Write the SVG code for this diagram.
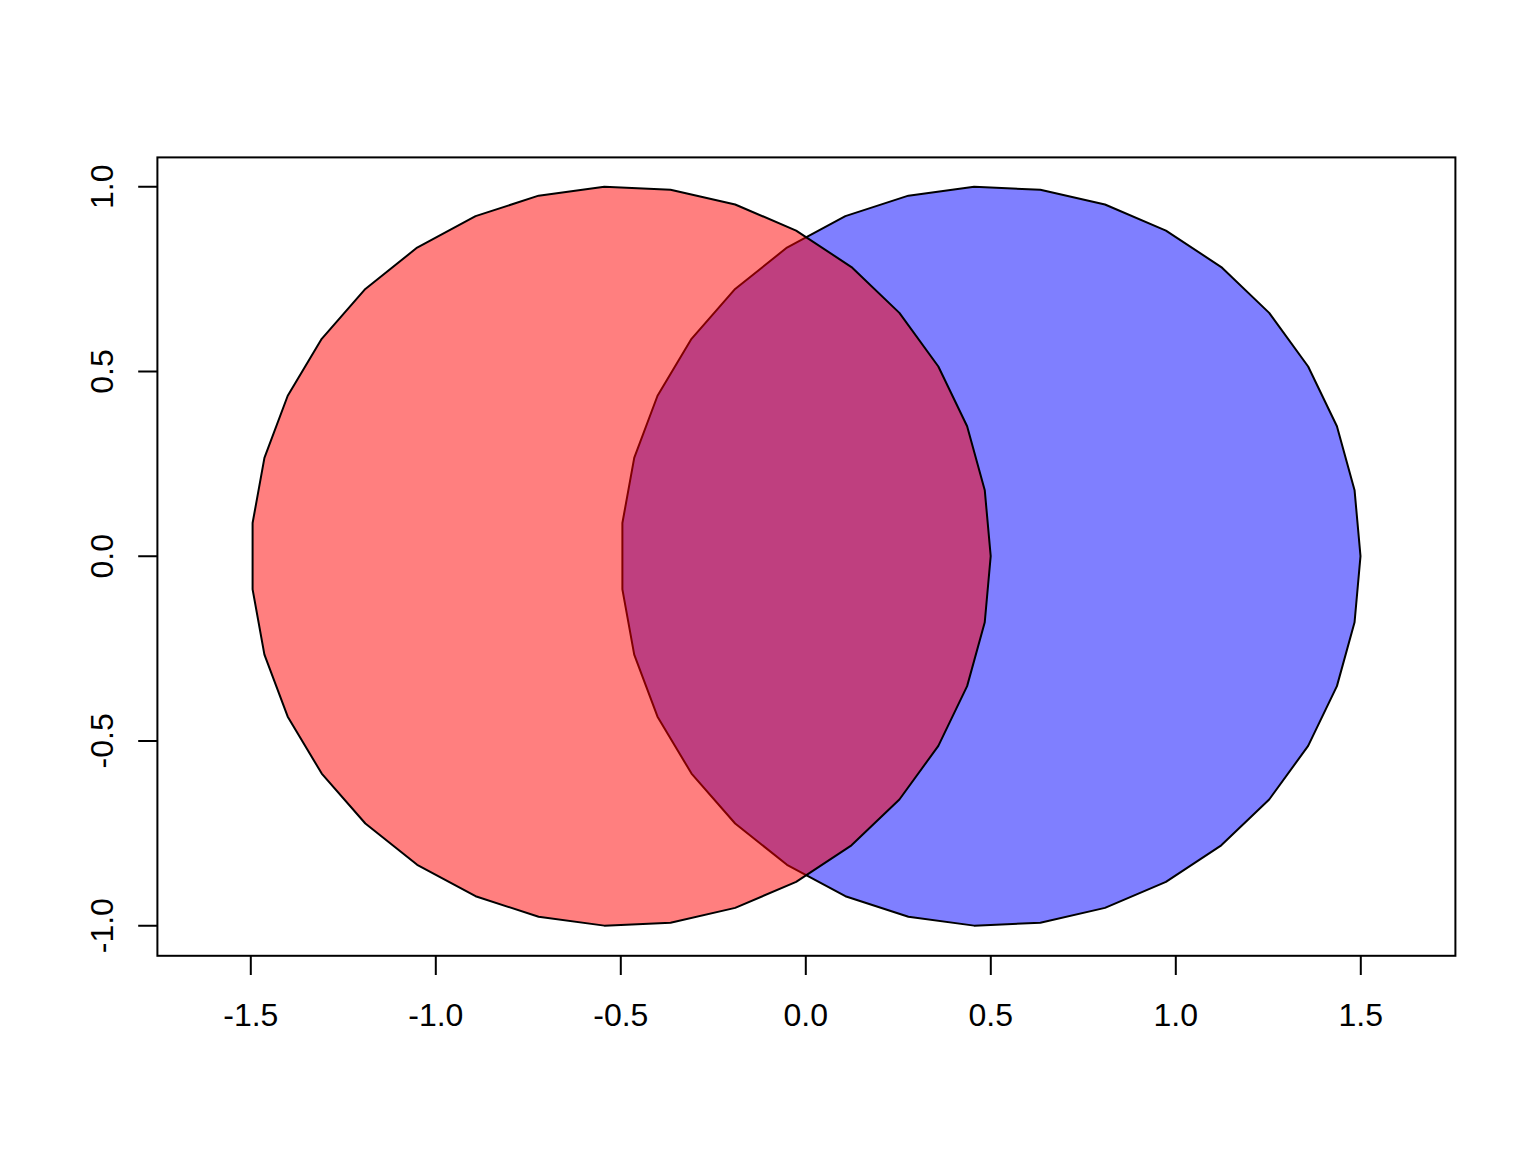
<svg xmlns="http://www.w3.org/2000/svg" width="1536" height="1152" viewBox="0 0 1536 1152">
<style>
.ln{stroke:#000;stroke-width:2;fill:none;stroke-linecap:butt}
.lbl{font-family:"Liberation Sans",Arial,sans-serif;font-size:32px;fill:#000;text-anchor:middle}
.circ{stroke:#000;stroke-width:2;stroke-linejoin:round}
</style>
<defs>
<polygon id="poly" points="369.8,0 363.86,-66.03 346.22,-129.94 317.45,-189.67 278.49,-243.31 230.57,-289.12 175.24,-325.65 114.28,-351.7 49.64,-366.46 -16.6,-369.43 -82.29,-360.53 -145.34,-340.04 -203.72,-308.62 -255.55,-267.29 -299.18,-217.36 -333.18,-160.45 -356.48,-98.38 -368.31,-33.15 -368.31,33.15 -356.48,98.38 -333.18,160.45 -299.18,217.36 -255.55,267.29 -203.72,308.62 -145.34,340.04 -82.29,360.53 -16.6,369.43 49.64,366.46 114.28,351.7 175.24,325.65 230.57,289.12 278.49,243.31 317.45,189.67 346.22,129.94 363.86,66.03"/>
</defs>
<rect width="1536" height="1152" fill="#fff"/>
<g id="circle-blue">
<use href="#poly" transform="translate(990.7,556.2)" class="circ" fill="rgba(0,0,255,0.5)"/>
</g>
<g id="circle-red">
<use href="#poly" transform="translate(620.9,556.2)" class="circ" fill="rgba(255,0,0,0.5)"/>
</g>
<g id="frame">
<rect x="157.4" y="157.4" width="1298" height="798.4" class="ln"/>
</g>
<g id="x-axis">
<path class="ln" d="M250.8,955.8V975M435.8,955.8V975M620.8,955.8V975M805.8,955.8V975M990.8,955.8V975M1175.8,955.8V975M1360.8,955.8V975"/>
<text class="lbl" x="250.8" y="1026">-1.5</text>
<text class="lbl" x="435.8" y="1026">-1.0</text>
<text class="lbl" x="620.8" y="1026">-0.5</text>
<text class="lbl" x="805.8" y="1026">0.0</text>
<text class="lbl" x="990.8" y="1026">0.5</text>
<text class="lbl" x="1175.8" y="1026">1.0</text>
<text class="lbl" x="1360.8" y="1026">1.5</text>
</g>
<g id="y-axis">
<path class="ln" d="M157.4,186.7H138.2M157.4,371.5H138.2M157.4,556.2H138.2M157.4,740.9H138.2M157.4,925.7H138.2"/>
<text class="lbl" transform="translate(113,186.7) rotate(-90)">1.0</text>
<text class="lbl" transform="translate(113,371.5) rotate(-90)">0.5</text>
<text class="lbl" transform="translate(113,556.2) rotate(-90)">0.0</text>
<text class="lbl" transform="translate(113,740.9) rotate(-90)">-0.5</text>
<text class="lbl" transform="translate(113,925.7) rotate(-90)">-1.0</text>
</g>
</svg>
